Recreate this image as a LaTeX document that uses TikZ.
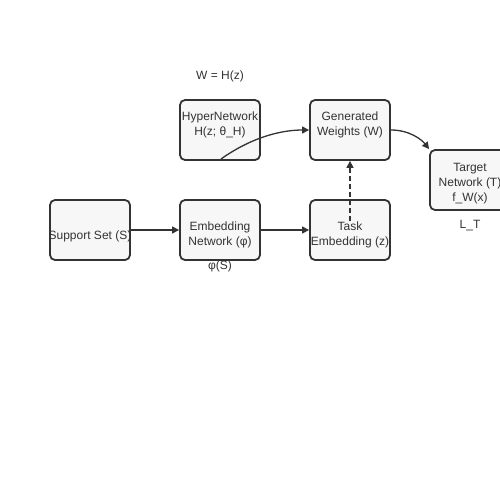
\documentclass[tikz,border=0pt]{standalone}
\usepackage{fontspec}
\setmainfont{Liberation Sans}
\usetikzlibrary{arrows.meta}
\definecolor{boxfill}{HTML}{F7F7F7}
\definecolor{ink}{HTML}{333333}
\newcommand\pushdn[1]{\rule{0pt}{#1}}
\begin{document}
\begin{tikzpicture}[x=1pt,y=-1pt,
  box/.style={draw=ink, line width=1.8pt, rounded corners=5pt, fill=boxfill,
    minimum width=80pt, minimum height=60pt, inner sep=0pt, align=center,
    text=ink, font=\fontsize{12}{15}\selectfont},
  shiftup/.style={execute at end node={\rule[-#1]{0pt}{0pt}}},
  lbl/.style={text=ink, font=\fontsize{12}{15}\selectfont, inner sep=0pt},
  conn/.style={draw=ink, line width=1.3pt, -{Triangle[length=7pt,width=7pt]}}]
\useasboundingbox (0,0) rectangle (500,500);
\node[box] (support) at (90,230) {\pushdn{21pt}\makebox[80pt]{Support Set (S)}};
\node[box] (embnet) at (220,230) {\pushdn{19pt}Embedding\\Network (φ)};
\node[box] (task) at (350,230) {\pushdn{19pt}Task\\Embedding (z)};
\node[box, shiftup=13pt] (hyper) at (220,130) {HyperNetwork\\H(z; θ\_H)};
\node[box, shiftup=13pt] (gen) at (350,130) {Generated\\Weights (W)};
\node[box] (target) at (470,180) {\pushdn{15pt}Target\\Network (T)\\f\_W(x)};
\node[lbl] (wlbl) at (220,76) {W = H(z)};
\node[lbl] (phis) at (220,266) {φ(S)};
\node[lbl] (lt) at (470,226) {L\_T};
\coordinate (taskin) at (350,221);
\coordinate (hyperout) at (221,159);
\draw[conn] (support.east) -- (embnet.west);
\draw[conn] (embnet.east) -- (task.west);
\draw[conn, dashed, dash pattern=on 5pt off 3pt] (taskin) -- (gen.south);
\draw[conn] (hyperout) .. controls (255,135) and (285,130) .. (gen.west);
\draw[conn] (gen.east) .. controls (410,130) and (422,140) .. (target.north west);
\end{tikzpicture}
\end{document}
